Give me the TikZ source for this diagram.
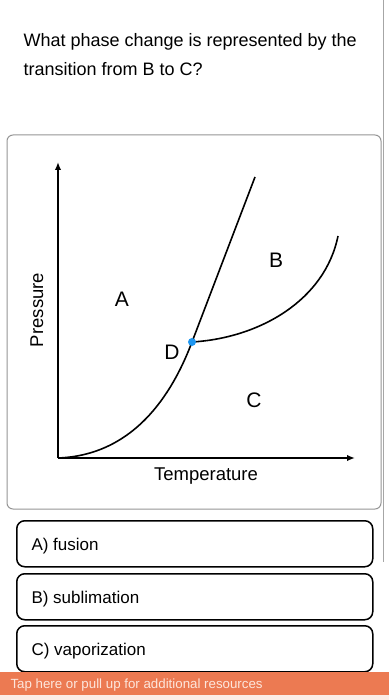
\documentclass[tikz,border=0pt]{standalone}
\usepackage{fontspec}
\setmainfont{Liberation Sans}
\usepackage{xcolor}
\definecolor{tapbar}{RGB}{236,122,82}
\definecolor{tapfg}{RGB}{253,230,220}
\definecolor{dotblue}{RGB}{30,150,240}
\definecolor{framegray}{RGB}{150,150,150}
\usepackage{tikz}
\usetikzlibrary{arrows.meta}

\begin{document}
\begin{tikzpicture}[x=1pt,y=-1pt,
      qtext/.style={anchor=base west,font=\fontsize{18}{22}\selectfont},
      region/.style={anchor=base,font=\fontsize{21}{25}\selectfont},
      axlab/.style={anchor=base,font=\fontsize{18.5}{22}\selectfont},
      choice/.style={draw=black,line width=1.5pt,rounded corners=8pt,minimum width=356pt,minimum height=46pt,anchor=north west},
      ctext/.style={anchor=base west,font=\fontsize{17}{20}\selectfont},
      axis/.style={-{Latex[length=8pt,width=6.5pt]},line width=1.9pt},
      curve/.style={line width=1.6pt},
      dotnode/.style={circle,fill=dotblue,inner sep=0pt,minimum size=8pt}]
    % page and margins
    \fill[white] (0,0) rectangle (389,700);
    \useasboundingbox (0,0) rectangle (389,700);
    % question
    \node[qtext] (q1) at (20,47) {What phase change is represented by the};
    \node[qtext] (q2) at (20,76) {transition from B to C?};
    % scroll line and graph frame
    \draw[framegray!85,line width=1.6pt] (383.5,0) -- (383.5,562);
    \draw[framegray,line width=1pt,rounded corners=6pt] (7,135) rectangle (381,509);
    % axes
    \coordinate (O) at (58,458);
    \coordinate (ytip) at (58,162);
    \coordinate (xtip) at (355,458);
    \draw[axis] (O) -- (ytip);
    \draw[axis] (O) -- (xtip);
    \node[axlab] (tlab) at (206,480) {Temperature};
    \node[axlab,rotate=90] (plab) at (43,310) {Pressure};
    % phase boundaries
    \coordinate (D) at (192,342);
    \coordinate (fusend) at (255,177);
    \coordinate (vapend) at (338,236);
    \draw[curve] (O) .. controls (140,455) and (176,384) .. (D);
    \draw[curve] (D) -- (fusend);
    \draw[curve] (D) .. controls (260,338) and (325,300) .. (vapend);
    \node[dotnode] (tp) at (D) {};
    % region letters
    \node[region] (ra) at (122,306) {A};
    \node[region] (rb) at (276,267) {B};
    \node[region] (rc) at (254,407) {C};
    \node[region] (rd) at (172,359) {D};
    % answer choices
    \foreach \n/\lbl/\y in {a/A) fusion/520, b/B) sublimation/573, c/C) vaporization/625} {
      \node[choice] (box\n) at (16,\y) {};
      \node[ctext] (txt\n) at ([xshift=12pt,yshift=-7pt]box\n.west) {\lbl};
    }
    % bottom bar
    \fill[tapbar] (0,672) rectangle (389,695);
    \fill[tapbar!15] (0,695) rectangle (389,700);
    \node[anchor=base west,font=\fontsize{13.3}{16}\selectfont,text=tapfg] (tap) at (7,688)
      {Tap here or pull up for additional resources};
  \end{tikzpicture}
\end{document}
